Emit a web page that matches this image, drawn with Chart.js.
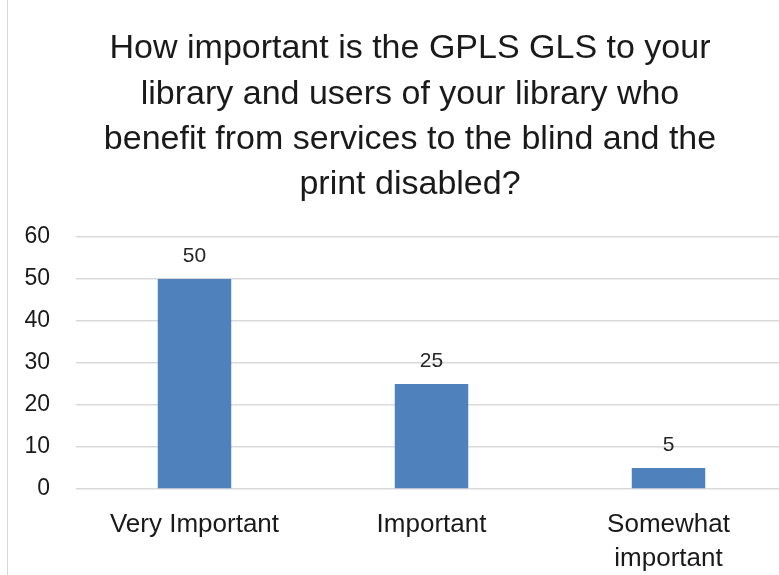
<!DOCTYPE html>
<html>
<head>
<meta charset="utf-8">
<script src="https://cdn.jsdelivr.net/npm/chart.js@4.4.1/dist/chart.umd.min.js"></script>
<style>
    html, body { margin: 0; padding: 0; background: #ffffff; overflow: hidden; }
    #frame { position: relative; width: 779px; height: 575px; overflow: hidden; }
    #frame:before { content: ''; position: absolute; left: 7px; top: 0; bottom: 0; width: 1px; background: #d9d9d9; z-index: 2; }
    #wrap { width: 787px; height: 575px; }
</style>
</head>
<body>
<div id="frame">
    <div id="wrap"><canvas id="chart"></canvas></div>
</div>
<script>
// Chart data
const titleLines = [
    'How important is the GPLS GLS to your',
    'library and users of your library who',
    'benefit from services to the blind and the',
    'print disabled?'
];
const categories = [['Very Important'], ['Important'], ['Somewhat', 'important']];
const responses = [50, 25, 5];
const yTicks = [0, 10, 20, 30, 40, 50, 60];

const FONT = "'Liberation Sans', Arial, sans-serif";

// title drawn by hand: the source centres it a bit right of the canvas middle
const titleText = {
    id: 'titleText',
    afterDraw(chart) {
        const ctx = chart.ctx;
        ctx.save();
        ctx.font = '34px ' + FONT;
        ctx.fillStyle = '#1a1a1a';
        ctx.textAlign = 'center';
        ctx.textBaseline = 'middle';
        titleLines.forEach((line, i) => {
            ctx.fillText(line, 410, 49 + i * 45.3);
        });
        ctx.restore();
    }
};

// small inline plugin that writes the value above each bar
const valueLabels = {
    id: 'valueLabels',
    afterDatasetsDraw(chart) {
        const ctx = chart.ctx;
        const meta = chart.getDatasetMeta(0);
        ctx.save();
        ctx.font = '21px ' + FONT;
        ctx.fillStyle = '#262626';
        ctx.textAlign = 'center';
        ctx.textBaseline = 'middle';
        meta.data.forEach((bar, i) => {
            ctx.fillText(String(responses[i]), bar.x, bar.y - 23);
        });
        ctx.restore();
    }
};

const ctx = document.getElementById('chart').getContext('2d');
new Chart(ctx, {
    type: 'bar',
    data: {
        labels: categories,
        datasets: [{
            data: responses,
            backgroundColor: '#4F81BD',
            barPercentage: 0.62,
            categoryPercentage: 0.5
        }]
    },
    options: {
        responsive: true,
        maintainAspectRatio: false,
        animation: false,
        layout: {
            padding: { left: 0, right: 0, top: 237, bottom: 0 }
        },
        plugins: {
            legend: { display: false },
            tooltip: { enabled: false },
            title: { display: false }
        },
        scales: {
            x: {
                grid: { display: false },
                border: { display: false },
                afterFit: (axis) => { axis.height = 86; },
                ticks: {
                    color: '#1a1a1a',
                    font: { family: FONT, size: 26, lineHeight: 1.31 },
                    padding: 11,
                    maxRotation: 0,
                    autoSkip: false
                }
            },
            y: {
                min: 0,
                max: 60,
                afterBuildTicks: (axis) => {
                    axis.ticks = yTicks.map(v => ({ value: v }));
                },
                afterFit: (axis) => { axis.width = 76; },
                grid: {
                    color: '#d9d9d9',
                    lineWidth: 1.5,
                    drawTicks: false
                },
                border: { display: false },
                ticks: {
                    color: '#1a1a1a',
                    font: { family: FONT, size: 23 },
                    padding: 26
                }
            }
        }
    },
    plugins: [titleText, valueLabels]
});
</script>
</body>
</html>
